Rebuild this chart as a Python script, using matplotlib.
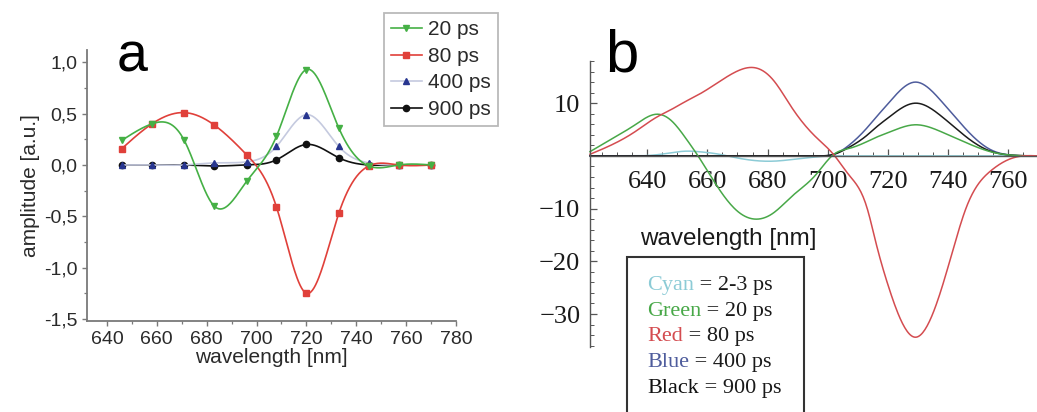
import numpy as np
import matplotlib
matplotlib.use("Agg")
import matplotlib.pyplot as plt
from matplotlib.patches import Rectangle
from matplotlib.ticker import MultipleLocator, FixedLocator, FuncFormatter

# ---- panel a: measured amplitudes ----
wl_a = [646, 658, 671, 683, 696, 708, 720, 733, 745, 757, 770]
amp_20 = [0.24, 0.40, 0.24, -0.40, -0.16, 0.28, 0.93, 0.36, -0.01, 0.0, 0.0]
amp_80 = [0.16, 0.40, 0.51, 0.39, 0.10, -0.41, -1.25, -0.47, -0.01, 0.0, 0.0]
amp_400 = [0.0, 0.0, 0.0, 0.02, 0.03, 0.18, 0.49, 0.18, 0.02, 0.0, 0.0]
amp_900 = [0.0, 0.0, 0.0, -0.01, 0.0, 0.05, 0.20, 0.07, 0.0, 0.0, 0.0]
labels_a = ["20 ps", "80 ps", "400 ps", "900 ps"]

# ---- panel b: model spectra ----
wl_b = [621, 630, 636, 643, 648, 653, 657, 664, 670, 676, 682, 688, 696,
        702, 707, 713, 716, 720, 729, 738, 742, 746, 754, 762, 770]
cyan_b = [0, 0, 0, 0.2, 0.6, 0.9, 0.8, 0.3, -0.4, -0.9, -1.0, -0.7, -0.2,
          0, 0, 0, 0, 0, 0, 0, 0, 0, 0, 0, 0]
green_b = [0.8, 3.8, 5.9, 7.9, 6.7, 3.2, -0.1, -6.4, -10.5, -12.0, -10.8, -7.7, -3.6,
           0.3, 1.4, 2.7, 3.5, 4.4, 5.9, 4.5, 3.5, 2.5, 0.8, 0.1, 0.0]
red_b = [0.3, 2.6, 4.6, 7.3, 8.8, 10.4, 11.6, 14.1, 16.1, 16.7, 14.3, 9.2, 3.6,
         0.2, -3.6, -9.8, -16.5, -24.5, -34.4, -24.8, -17.0, -9.8, -2.9, -0.3, 0.0]
blue_b = [0, 0, 0, 0, 0, 0, 0, 0, 0, 0, 0, 0, 0,
          0.3, 2.0, 5.3, 7.3, 9.9, 14.0, 10.2, 7.6, 5.0, 1.2, 0.1, 0.0]
black_b = [0, 0, 0, 0, 0, 0, 0, 0, 0, 0, 0, 0, 0,
           0.3, 1.6, 3.9, 5.4, 7.2, 10.0, 7.4, 5.5, 3.6, 0.9, 0.1, 0.0]
names_b = ["Cyan", "Green", "Red", "Blue", "Black"]
times_b = [" = 2-3 ps", " = 20 ps", " = 80 ps", " = 400 ps", " = 900 ps"]


def spline(x, y, num=400):
    # natural cubic spline, only used to draw a smooth connecting line
    x = np.asarray(x, float)
    y = np.asarray(y, float)
    n = len(x)
    h = np.diff(x)
    A = np.zeros((n, n))
    r = np.zeros(n)
    A[0, 0] = A[-1, -1] = 1
    for i in range(1, n - 1):
        A[i, i - 1] = h[i - 1]
        A[i, i] = 2 * (h[i - 1] + h[i])
        A[i, i + 1] = h[i]
        r[i] = 3 * ((y[i + 1] - y[i]) / h[i] - (y[i] - y[i - 1]) / h[i - 1])
    c = np.linalg.solve(A, r)
    b = (y[1:] - y[:-1]) / h - h * (2 * c[:-1] + c[1:]) / 3
    d = (c[1:] - c[:-1]) / (3 * h)
    xs = np.linspace(x[0], x[-1], num)
    i = np.clip(np.searchsorted(x, xs) - 1, 0, n - 2)
    t = xs - x[i]
    return xs, y[i] + b[i] * t + c[i] * t ** 2 + d[i] * t ** 3


W, H = 1037, 412
fig = plt.figure(figsize=(W / 100, H / 100), dpi=100)
sans = "Liberation Sans"
serif = "Liberation Serif"

# ================= panel a =================
ax = fig.add_axes([87 / W, 1 - 321 / H, 369 / W, 271 / H])
grey = "#7a7a7a"
series_a = [
    (amp_900, "#111111", "#111111", "o", 3),
    (amp_400, "#c5cadf", "#27358f", "^", 4),
    (amp_80, "#e0403a", "#e0403a", "s", 5),
    (amp_20, "#45b045", "#45b045", "v", 6),
]
handles = []
for vals, lc, mc, mk, z in series_a:
    xs, ys = spline(wl_a, vals)
    ax.plot(xs, ys, color=lc, lw=1.2, zorder=z)
    ax.plot(wl_a, vals, ls="none", marker=mk, color=mc, ms=4.5, zorder=z)
    h, = ax.plot([], [], color=lc, lw=1.2, marker=mk, mfc=mc, mec=mc, ms=4.5)
    handles.append(h)
handles = handles[::-1]

ax.set_xlim(632, 780)
ax.set_ylim(-1.52, 1.12)
ax.xaxis.set_major_locator(MultipleLocator(20))
ax.xaxis.set_minor_locator(MultipleLocator(10))
ax.yaxis.set_major_locator(MultipleLocator(0.5))
ax.yaxis.set_minor_locator(MultipleLocator(0.25))
ax.yaxis.set_major_formatter(FuncFormatter(lambda v, p: f"{v:.1f}".replace(".", ",")))
for s in ["top", "right"]:
    ax.spines[s].set_visible(False)
for s in ["left", "bottom"]:
    ax.spines[s].set_color(grey)
    ax.spines[s].set_linewidth(1.3)
ax.tick_params(which="both", direction="out", color=grey, labelcolor="#2a2a2a",
               labelsize=14, pad=3.5)
ax.tick_params(which="major", length=3.5, width=1.0)
ax.tick_params(which="minor", length=2.5, width=0.9)
for lab in ax.get_xticklabels() + ax.get_yticklabels():
    lab.set_fontfamily(sans)
ax.set_xlabel("wavelength [nm]", fontsize=15, family=sans, color="#2a2a2a", labelpad=0)
ax.set_ylabel("amplitude [a.u.]", fontsize=15, family=sans, color="#2a2a2a", labelpad=3)
fig.text(132 / W, 1 - 72 / H, "a", fontsize=40, family=sans, ha="center", va="baseline")

leg = ax.legend(handles, labels_a, loc="upper left", bbox_to_anchor=(384 / W, 1 - 13 / H),
                bbox_transform=fig.transFigure, borderaxespad=0, frameon=True, fancybox=False,
                prop={"family": sans, "size": 15}, handlelength=1.45, handletextpad=0.3,
                labelspacing=0.36, borderpad=0.35)
leg.get_frame().set_edgecolor("#a8a8a8")
leg.get_frame().set_linewidth(1.3)
for txt in leg.get_texts():
    txt.set_color("#2a2a2a")

# ================= panel b =================
bx = fig.add_axes([590 / W, 1 - 346.7 / H, 447 / W, 285.7 / H])
series_b = [
    (cyan_b, "#8ccbd6"),
    (blue_b, "#4e5c9c"),
    (black_b, "#1c1c1c"),
    (green_b, "#48a848"),
    (red_b, "#d44c50"),
]
for vals, col in series_b:
    xs, ys = spline(wl_b, vals)
    bx.plot(xs, ys, color=col, lw=1.1, clip_on=False)

bx.set_xlim(621, 769.5)
bx.set_ylim(-36.2, 18)
for s in ["top", "right"]:
    bx.spines[s].set_visible(False)
bx.spines["bottom"].set_position(("data", 0))
bx.spines["left"].set_position(("data", 621))
for s in ["left", "bottom"]:
    bx.spines[s].set_color("#555555")
    bx.spines[s].set_linewidth(1.0)
bx.xaxis.set_major_locator(FixedLocator([640, 660, 680, 700, 720, 740, 760]))
bx.xaxis.set_minor_locator(MultipleLocator(5))
bx.yaxis.set_major_locator(FixedLocator([-30, -20, -10, 10]))
bx.yaxis.set_minor_locator(MultipleLocator(2))
bx.tick_params(which="both", direction="in", color="#555555", labelcolor="#1a1a1a",
               labelsize=19)
bx.tick_params(axis="x", which="major", length=5, width=0.9, pad=11)
bx.tick_params(axis="y", which="major", length=5, width=0.9, pad=7)
bx.tick_params(which="minor", length=3, width=0.7)
for lab in bx.get_xticklabels() + bx.get_yticklabels():
    lab.set_fontfamily(serif)
fig.text(728 / W, 1 - 239 / H, "wavelength [nm]", fontsize=17.5, family=sans,
         ha="center", va="center", color="#1a1a1a")
fig.text(622 / W, 1 - 72 / H, "b", fontsize=43, family=sans, ha="center", va="baseline")

# legend box of panel b, running off the bottom edge
fig.patches.append(Rectangle((627 / W, -0.05), (804 - 627) / W, 0.05 + 1 - 257 / H,
                             transform=fig.transFigure, fill=False, edgecolor="#333333",
                             lw=1.5, clip_on=False))
name_cols = ["#8ccbd6", "#48a848", "#d44c50", "#4e5c9c", "#111111"]
for k, (nm, tt, col) in enumerate(zip(names_b, times_b, name_cols)):
    yb = 1 - (290 + 25.7 * k) / H
    t = fig.text(647 / W, yb, nm, fontsize=16, family=serif, color=col, va="baseline")
    bx.annotate(tt, xy=(1, 0), xycoords=t, fontsize=16, family=serif, color="#1a1a1a",
                va="bottom", ha="left", annotation_clip=False)

fig.savefig("out.png", dpi=100)
